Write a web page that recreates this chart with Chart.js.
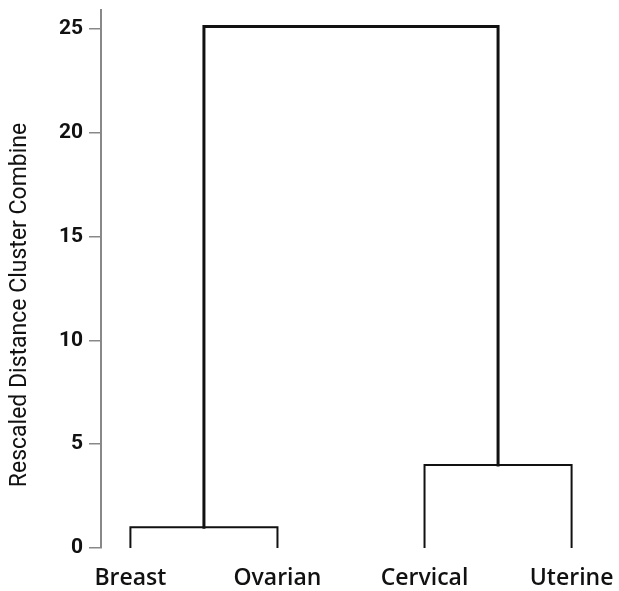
<!DOCTYPE html>
<html>
<head>
<meta charset="utf-8">
<script src="https://cdn.jsdelivr.net/npm/chart.js@4"></script>
<style>
  html, body { margin: 0; padding: 0; background: #fff; }
  #wrap { width: 619px; height: 591px; }
</style>
</head>
<body>
<div id="wrap"><canvas id="dendro"></canvas></div>
<script>
// leaves, left to right
const leafLabels = ["Breast", "Ovarian", "Cervical", "Uterine"];
const leafPos    = [1, 2, 3, 4];

// merges: left child x / base, right child x / base, join height
const mergeLeftX     = [1, 3, 1.5];
const mergeLeftBase  = [0, 0, 1];
const mergeRightX    = [2, 4, 3.5];
const mergeRightBase = [0, 0, 4];
const mergeHeight    = [1, 4, 25.1];
const mergeWidth     = [2, 2, 3];

const yTicks = [0, 5, 10, 15, 20, 25];
const yTitle = "Rescaled Distance Cluster Combine";

const datasets = mergeHeight.map((h, i) => ({
  data: [
    { x: mergeLeftX[i],  y: mergeLeftBase[i] },
    { x: mergeLeftX[i],  y: h },
    { x: mergeRightX[i], y: h },
    { x: mergeRightX[i], y: mergeRightBase[i] },
  ],
  borderColor: "#111",
  borderWidth: mergeWidth[i],
  pointRadius: 0,
  tension: 0,
  fill: false,
  borderCapStyle: "square",
  borderJoinStyle: "miter",
}));

// y title sits a bit below the middle of the axis in the original
const yTitlePlugin = {
  id: "yTitle",
  afterDraw(chart) {
    const { ctx, chartArea } = chart;
    const cy = (chartArea.top + chartArea.bottom) / 2 + 26;
    ctx.save();
    ctx.translate(20, cy);
    ctx.rotate(-Math.PI / 2);
    ctx.fillStyle = "#111";
    ctx.font = "23px Roboto";
    ctx.textAlign = "center";
    ctx.textBaseline = "middle";
    ctx.fillText(yTitle, 0, 0);
    ctx.restore();
  },
};

new Chart(document.getElementById("dendro"), {
  type: "line",
  data: { datasets },
  plugins: [yTitlePlugin],
  options: {
    responsive: true,
    maintainAspectRatio: false,
    animation: false,
    layout: { padding: { top: 10, left: 0, right: 18, bottom: 0 } },
    plugins: { legend: { display: false }, tooltip: { enabled: false } },
    scales: {
      x: {
        type: "linear",
        min: 0.8,
        max: 4.2,
        afterBuildTicks: s => { s.ticks = leafPos.map(v => ({ value: v })); },
        afterFit: s => { s.height = 43; s.paddingLeft = 0; s.paddingRight = 0; },
        ticks: {
          autoSkip: false,
          maxRotation: 0,
          padding: 17,
          color: "#111",
          font: { family: "Open Sans", size: 23, weight: "600" },
          callback: v => leafLabels[leafPos.indexOf(v)] ?? "",
        },
        grid: { display: false, drawTicks: false },
        border: { display: false },
      },
      y: {
        min: 0,
        max: 25.9,
        afterBuildTicks: s => { s.ticks = yTicks.map(v => ({ value: v })); },
        afterFit: s => { s.width = 101; s.paddingTop = 0; s.paddingBottom = 0; },
        ticks: {
          padding: 6,
          color: "#111",
          font: { family: "Roboto", size: 21, weight: "bold" },
        },
        grid: {
          drawOnChartArea: false,
          drawTicks: true,
          tickLength: 12,
          color: "#888",
          lineWidth: 1.5,
        },
        border: { display: true, color: "#888", width: 2 },
      },
    },
  },
});
</script>
</body>
</html>
